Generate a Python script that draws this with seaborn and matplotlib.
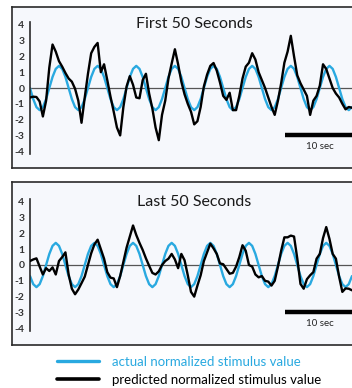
import numpy as np
import matplotlib
matplotlib.use("Agg")
import matplotlib.pyplot as plt
import seaborn as sns
from matplotlib.lines import Line2D

# one sample every half second over the 50 s window
seconds = np.arange(0, 50.5, 0.5)

actual_first = [
    0, -0.7, -1.21, -1.4, -1.21, -0.7, 0, 0.7, 1.21, 1.4, 1.21, 0.7,
    0, -0.7, -1.21, -1.4, -1.21, -0.7, 0, 0.7, 1.21, 1.4, 1.21, 0.7,
    0, -0.7, -1.21, -1.4, -1.21, -0.7, 0, 0.7, 1.21, 1.4, 1.21, 0.7,
    0, -0.7, -1.21, -1.4, -1.21, -0.7, 0, 0.7, 1.21, 1.4, 1.21, 0.7,
    0, -0.7, -1.21, -1.4, -1.21, -0.7, 0, 0.7, 1.21, 1.4, 1.21, 0.7,
    0, -0.7, -1.21, -1.4, -1.21, -0.7, 0, 0.7, 1.21, 1.4, 1.21, 0.7,
    0, -0.7, -1.21, -1.4, -1.21, -0.7, 0, 0.7, 1.21, 1.4, 1.21, 0.7,
    0, -0.7, -1.21, -1.4, -1.21, -0.7, 0, 0.7, 1.21, 1.4, 1.21, 0.7,
    0, -0.7, -1.21, -1.4, -1.21,
]
predicted_first = [
    -0.6, -0.55, -0.57, -0.85, -1.8, -0.8, 1.3, 2.75, 2.3, 1.7,
    1.35, 0.95, 0.6, 0.4, -0.05, -0.8, -2.2, -0.6, 0.9, 2.2,
    2.6, 2.85, 1.0, 1.5, 0.5, -0.55, -1.5, -2.5, -3.0, -1.2,
    0.1, 0.75, 0.2, -0.6, -0.65, 0.5, 0.9, -0.35, -1.3, -2.5,
    -3.3, -1.7, -0.8, 0.6, 1.55, 2.45, 1.5, 0.4, -0.4, -1.0,
    -1.5, -2.3, -2.1, -1.2, 0.1, 0.85, 1.4, 1.58, 1.1, 0.35,
    -0.5, -0.75, -0.3, -1.4, -1.4, -0.5, 0.6, 1.35, 1.6, 2.2,
    1.8, 1.0, 0.5, 0.0, -0.6, -1.2, -1.7, -0.8, 0.3, 1.6,
    2.3, 3.3, 2.0, 0.8, 0.3, -0.1, -0.5, -1.7, -0.8, -0.5,
    0.15, 1.5, 1.2, 0.6, 0.0, -0.35, -0.6, -1.0, -1.35, -1.2, -1.25,
]
actual_last = [
    -0.7, -1.21, -1.4, -1.21, -0.7, 0, 0.7, 1.21, 1.4, 1.21, 0.7, 0,
    -0.7, -1.21, -1.4, -1.21, -0.7, 0, 0.7, 1.21, 1.4, 1.21, 0.7, 0,
    -0.7, -1.21, -1.4, -1.21, -0.7, 0, 0.7, 1.21, 1.4, 1.21, 0.7, 0,
    -0.7, -1.21, -1.4, -1.21, -0.7, 0, 0.7, 1.21, 1.4, 1.21, 0.7, 0,
    -0.7, -1.21, -1.4, -1.21, -0.7, 0, 0.7, 1.21, 1.4, 1.21, 0.7, 0,
    -0.7, -1.21, -1.4, -1.21, -0.7, 0, 0.7, 1.21, 1.4, 1.21, 0.7, 0,
    -0.7, -1.21, -1.4, -1.21, -0.7, 0, 0.7, 1.21, 1.4, 1.21, 0.7, 0,
    -0.7, -1.21, -1.4, -1.21, -0.7, 0, 0.7, 1.21, 1.4, 1.21, 0.7, 0,
    -0.7, -1.21, -1.4, -1.21, -0.7,
]
predicted_last = [
    0.25, 0.35, 0.42, -0.1, -0.6, -0.2, -0.38, -0.15, -0.6, 0.25,
    0.5, 0.8, -0.6, -1.5, -1.85, -1.55, -1.15, -0.74, 0.0, 0.74,
    1.3, 1.6, 1.0, 0.4, -0.45, -0.8, -0.85, -1.4, -0.7, 0.2,
    1.1, 1.8, 2.5, 1.9, 1.4, 0.95, 0.42, -0.05, -0.5, -0.6,
    -0.4, 0.0, 0.25, 0.4, 0.7, 0.35, -0.2, 0.7, 0.3, -0.65,
    -1.7, -2.0, -1.3, -0.65, 0.25, 0.8, 1.35, 1.05, 0.7, 0.1,
    0.05, -0.25, -0.55, -0.5, -0.1, 0.5, 1.25, 0.9, 0.0, -0.1,
    -0.6, -0.78, -0.7, -1.0, -1.05, -1.3, -1.0, -0.1, 0.9, 1.75,
    1.75, 1.86, 1.8, 0.42, -1.2, -1.5, -0.9, -0.65, -0.45, 0.4,
    0.7, 1.7, 2.4, 1.65, 0.7, 0.4, -0.74, -1.7, -1.48, -1.5, -1.6,
]

panel_titles = ["First 50 Seconds", "Last 50 Seconds"]
y_ticks = [-4, -3, -2, -1, 0, 1, 2, 3, 4]
scale_bar_start = 39.6
scale_label = "10 sec"
legend_labels = ["actual normalized stimulus value",
                 "predicted normalized stimulus value"]

blue = "#29a9e0"

sns.set_style("white")
plt.rcParams["font.family"] = ["Lato", "DejaVu Sans"]

W, H = 352, 388
fig = plt.figure(figsize=(W / 100, H / 100), dpi=100)
fig.patch.set_facecolor("white")

frames = [(6.5, 168), (181.5, 344.5)]      # top/bottom of framed boxes (px)
plot_boxes = [(21.6, 154.4), (198.6, 331.4)]  # top/bottom of data axes (px)
title_y = [24, 202]
series = [(actual_first, predicted_first), (actual_last, predicted_last)]

for i in range(2):
    top, bot = frames[i]
    bg = fig.add_axes([12 / W, 1 - bot / H, 1.0, (bot - top) / H])
    bg.set_facecolor("#f6f8fc")
    bg.set_xticks([])
    bg.set_yticks([])
    for sp in bg.spines.values():
        sp.set_color("#2a2a2a")
        sp.set_linewidth(1.2)

    top, bot = plot_boxes[i]
    ax = fig.add_axes([30 / W, 1 - bot / H, (W - 30) / W, (bot - top) / H])
    ax.set_facecolor("none")
    actual, predicted = series[i]
    ax.axhline(0, color="#555555", lw=0.9, zorder=1)
    sns.lineplot(x=seconds, y=actual, ax=ax, color=blue, lw=1.7, zorder=2)
    sns.lineplot(x=seconds, y=predicted, ax=ax, color="black", lw=1.7, zorder=3)

    # 10 s scale bar
    ax.plot([scale_bar_start, scale_bar_start + 11], [-2.95, -2.95],
            color="black", lw=3.2, solid_capstyle="butt")
    ax.text(45.0, -3.7, scale_label, ha="center", va="center",
            fontsize=7, color="#222222")

    ax.set_xlim(0, 50)
    ax.set_ylim(-4.2, 4.2)
    ax.set_yticks(y_ticks)
    ax.set_yticklabels([str(v) for v in y_ticks])
    ax.set_xticks([])
    ax.set_xlabel("")
    ax.set_ylabel("")
    ax.tick_params(axis="y", length=0, pad=4, labelsize=7.5, labelcolor="#333333")
    for lab in ax.get_yticklabels():
        lab.set_fontweight("bold")
    for side in ["top", "right", "bottom"]:
        ax.spines[side].set_visible(False)
    ax.spines["left"].set_color("#2a2a2a")
    ax.spines["left"].set_linewidth(1.2)

    fig.text(194 / W, 1 - title_y[i] / H, panel_titles[i], ha="center",
             va="center", fontsize=11.5, color="#1a1a1a")

handles = [Line2D([], [], color=blue, lw=2.4),
           Line2D([], [], color="black", lw=2.6)]
fig.legend(handles, legend_labels, loc="upper left",
           bbox_to_anchor=(57 / W, 1 - 356 / H), frameon=False, fontsize=9.5,
           handlelength=3.2, handletextpad=1.0, labelspacing=0.45,
           borderpad=0, borderaxespad=0, labelcolor="linecolor")

fig.savefig("out.png", dpi=100)
